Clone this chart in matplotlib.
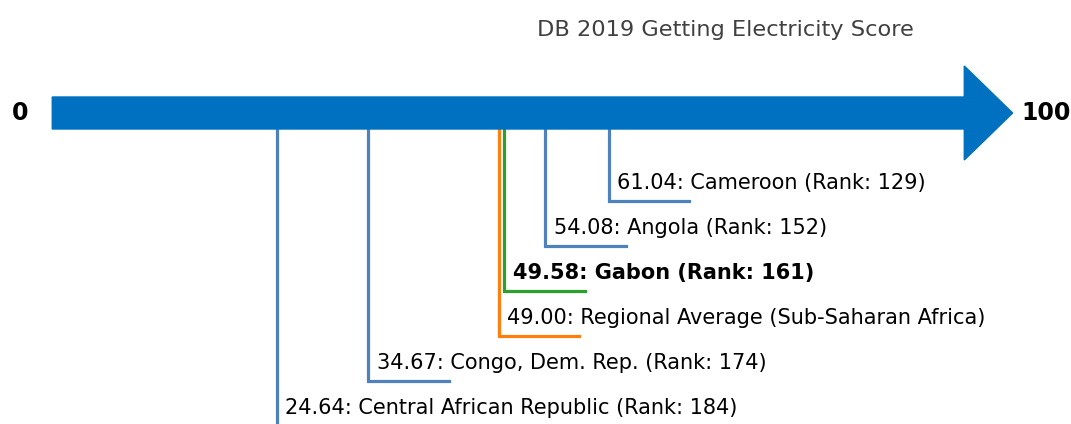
import matplotlib.pyplot as plt
from matplotlib.patches import Polygon

countries = ['Cameroon (Rank: 129)', 'Angola (Rank: 152)', 'Gabon (Rank: 161)',
             'Regional Average (Sub-Saharan Africa)', 'Congo, Dem. Rep. (Rank: 174)',
             'Central African Republic (Rank: 184)']
scores = [61.04, 54.08, 49.58, 49.00, 34.67, 24.64]
line_colors = ['#4f81bd', '#4f81bd', '#2ca02c', '#ff7f0e', '#4f81bd', '#4f81bd']
bold = [False, False, True, False, False, False]

fig = plt.figure(figsize=(10.71, 4.24), dpi=100)
ax = fig.add_axes([0, 0, 1, 1])
# x in score units, y in pixels from the top
ax.set_xlim(-5.73, 111.7)
ax.set_ylim(424, 0)
ax.axis('off')

# big arrow from 0 to 100
arrow = Polygon([(0, 97), (100, 97), (100, 66), (105.3, 113), (100, 160),
                 (100, 129), (0, 129)], closed=True, color='#0070c0', zorder=3)
ax.add_patch(arrow)
ax.text(-3.5, 113, '0', ha='center', va='center', fontsize=17, fontweight='bold')
ax.text(106.3, 113, '100', ha='left', va='center', fontsize=17, fontweight='bold')
ax.text(73.8, 30, 'DB 2019 Getting Electricity Score', ha='center', va='center',
        fontsize=16.2, color='#404040')

for i, (s, name, c, b) in enumerate(zip(scores, countries, line_colors, bold)):
    y = 201 + 45 * i
    ax.plot([s, s, s + 8.8], [113, y, y], color=c, lw=2.3, zorder=2,
            solid_joinstyle='miter', clip_on=False)
    ax.text(s + 0.9, y - 18, '%.2f: %s' % (s, name), ha='left', va='center',
            fontsize=15, fontweight='bold' if b else 'normal')

fig.savefig('out.png', dpi=100)
